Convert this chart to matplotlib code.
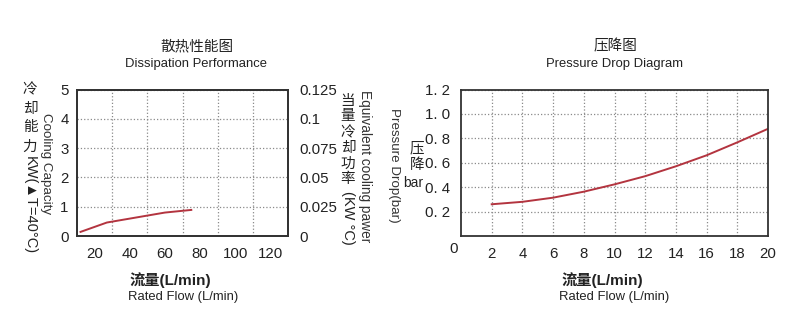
import matplotlib
matplotlib.use('Agg')
import matplotlib.pyplot as plt

plt.rcParams['font.family'] = ['Liberation Sans', 'Noto Sans CJK SC', 'DejaVu Sans']

# 散热性能图 data
cool_flow = [12, 27, 60, 75]
cool_kw = [0.14, 0.46, 0.80, 0.89]
cool_xticks = [20, 40, 60, 80, 100, 120]
cool_yticks = [0, 1, 2, 3, 4, 5]
equiv_ticks = [0, 0.025, 0.05, 0.075, 0.1, 0.125]
equiv_labels = ['0', '0.025', '0.05', '0.075', '0.1', '0.125']

# 压降图 data
dp_flow = [2, 4, 6, 8, 10, 12, 14, 16, 18, 20]
dp_bar = [0.26, 0.28, 0.314, 0.363, 0.423, 0.49, 0.571, 0.661, 0.767, 0.878]
dp_xticks = [2, 4, 6, 8, 10, 12, 14, 16, 18, 20]
dp_yticks = [0.2, 0.4, 0.6, 0.8, 1.0, 1.2]
dp_ylabels = ['0. 2', '0. 4', '0. 6', '0. 8', '1. 0', '1. 2']

txt = '#222222'
red = '#b3343f'
grid_kw = dict(color='#8a8a8a', linestyle=':', linewidth=0.9)

W, H = 800, 336
fig = plt.figure(figsize=(8, 3.36), dpi=100)


def fx(px):
    return px / W


def fy(py):
    return 1 - py / H


def style(ax):
    for s in ax.spines.values():
        s.set_color('#333333')
        s.set_linewidth(1.3)
    ax.tick_params(length=0, labelsize=10.8, colors=txt)


# ---- left chart ----
ax1 = fig.add_axes([fx(77), fy(236), fx(288 - 77), (236 - 89.5) / H])
style(ax1)
ax1.plot(cool_flow, cool_kw, color=red, linewidth=1.4)
ax1.set_xlim(10, 130)
ax1.set_ylim(0, 5)
ax1.set_xticks(cool_xticks)
ax1.set_xticks([30, 50, 70, 90, 110], minor=True)
ax1.tick_params(which='minor', length=0)
ax1.set_yticks(cool_yticks)
ax1.set_yticklabels([str(v) for v in cool_yticks])
ax1.tick_params(axis='x', pad=8)
ax1.tick_params(axis='y', pad=6)
ax1.grid(True, axis='y', **grid_kw)
ax1.grid(True, axis='x', which='minor', **grid_kw)
ax1.set_axisbelow(True)

ax1r = ax1.twinx()
style(ax1r)
ax1r.set_ylim(0, 0.125)
ax1r.set_yticks(equiv_ticks)
ax1r.set_yticklabels(equiv_labels)
ax1r.tick_params(axis='y', pad=8)

fig.text(fx(197), fy(46.5), '散热性能图', ha='center', va='center', fontsize=10.5, color=txt)
fig.text(fx(196), fy(63.5), 'Dissipation Performance', ha='center', va='center', fontsize=9.4, color=txt)
fig.text(fx(170), fy(280), '流量(L/min)', ha='center', va='center', fontsize=11,
         fontweight='bold', color=txt)
fig.text(fx(183), fy(297), 'Rated Flow (L/min)', ha='center', va='center', fontsize=9.4, color=txt)

fig.text(fx(30), fy(118), '\n'.join('冷却能力'), ha='center', va='center', fontsize=10.5,
         color=txt, linespacing=1.45)
fig.text(fx(30), fy(205), 'KW(▲T=40°C)', ha='center', va='center', rotation=270,
         fontsize=10.5, color=txt)
fig.text(fx(46), fy(164), 'Cooling Capacity', ha='center', va='center', rotation=270,
         fontsize=9.6, color='#333333')

fig.text(fx(348), fy(140), '\n'.join('当量冷却功率'), ha='center', va='center', fontsize=10.5,
         color=txt, linespacing=1.16)
fig.text(fx(348), fy(218), '(KW °C)', ha='center', va='center', rotation=270,
         fontsize=10.5, color=txt)
fig.text(fx(365), fy(166), 'Equivalent cooling pawer', ha='center', va='center', rotation=270,
         fontsize=9.8, color='#333333')

# ---- right chart ----
ax2 = fig.add_axes([fx(461), fy(236), fx(768 - 461), (236 - 89.5) / H])
style(ax2)
ax2.plot(dp_flow, dp_bar, color=red, linewidth=1.4)
ax2.set_xlim(0, 20)
ax2.set_ylim(0, 1.2)
ax2.set_xticks(dp_xticks)
ax2.set_yticks(dp_yticks)
ax2.set_yticklabels(dp_ylabels)
ax2.tick_params(axis='x', pad=8)
ax2.tick_params(axis='y', pad=8)
ax2.grid(True, **grid_kw)
ax2.set_axisbelow(True)

fig.text(fx(454), fy(249), '0', ha='center', va='center', fontsize=10.8, color=txt)
fig.text(fx(615), fy(46.5), '压降图', ha='center', va='center', fontsize=10.5, color=txt)
fig.text(fx(614), fy(63.5), 'Pressure Drop Diagram', ha='center', va='center', fontsize=9.4, color=txt)
fig.text(fx(602), fy(280), '流量(L/min)', ha='center', va='center', fontsize=11,
         fontweight='bold', color=txt)
fig.text(fx(614), fy(297), 'Rated Flow (L/min)', ha='center', va='center', fontsize=9.4, color=txt)

fig.text(fx(394), fy(165), 'Pressure Drop(bar)', ha='center', va='center', rotation=270,
         fontsize=9.6, color='#333333')
fig.text(fx(417), fy(157), '压\n降', ha='center', va='center', fontsize=10.5, color=txt,
         linespacing=1.25)
fig.text(fx(413), fy(183), 'bar', ha='center', va='center', fontsize=10, color=txt)

fig.savefig('out.png', dpi=100, facecolor='white')
